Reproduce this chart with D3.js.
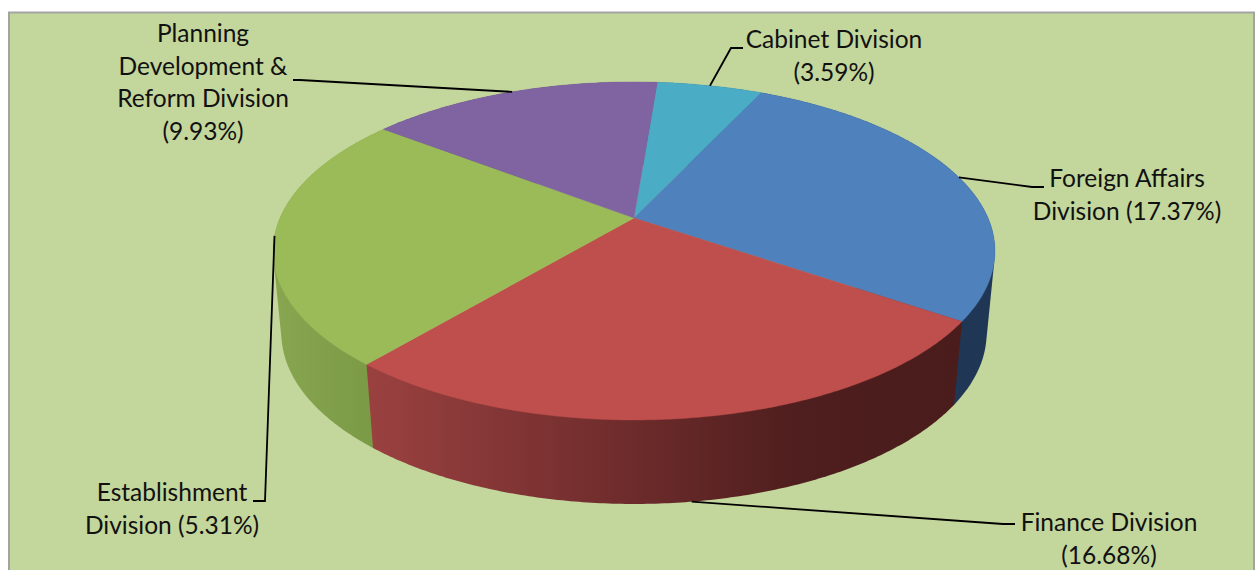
<!DOCTYPE html>
<html lang="en">
<head>
    <meta charset="UTF-8">
    <title>Division shares</title>
    <style>
        body{ margin:0; background:#fff; }
        svg{ display:block; }
        .label text{ font:24.5px Lato, sans-serif; fill:#111; text-anchor:middle; }
        .leader{ fill:none; stroke:#000; stroke-width:1.8; }
    </style>
</head>
<body>
    <svg class="chart" width="1256" height="570"></svg>
    <script src="https://cdnjs.cloudflare.com/ajax/libs/d3/7.8.5/d3.min.js"></script>
    <script>
        // data, clockwise from the top
        var categories = ["Cabinet Division", "Foreign Affairs Division", "Finance Division", "Establishment Division", "Planning Development & Reform Division"];
        var sliceValues = [3.59, 17.37, 16.68, 15.31, 9.93];
        var labelLines = [
            ["Cabinet Division", "(3.59%)"],
            ["Foreign Affairs", "Division (17.37%)"],
            ["Finance Division", "(16.68%)"],
            ["Establishment", "Division (5.31%)"],
            ["Planning", "Development &", "Reform Division", "(9.93%)"]
        ];

        var colors = ["#4bacc6", "#4f81bd", "#be4f4c", "#9bbb59", "#8064a2"];

        // label placement: centre x, first baseline, elbow points of the leader
        var placement = [
            {x:834, y:48, elbow:[[731, 48], [743, 48]]},
            {x:1127, y:187, elbow:[[1032, 187], [1044, 187]]},
            {x:1109, y:531, elbow:[[1003, 524], [1015, 524]]},
            {x:172, y:501, elbow:[[265, 501], [253, 501]]},
            {x:203, y:42, elbow:[[300, 80], [293, 80]]}
        ];

        var svg = d3.select("svg"),
            height = +svg.attr("height"),
            startAngle = 4.5 * Math.PI / 180;

        // perspective projection of the top and bottom discs
        var topDisc = {cx:634, cy:218, a:354, b:162.6, k:0.195},
            bottomDisc = {cx:634, cy:300, a:346, b:164.6, k:0.193};

        function project(disc, angle){
            var X = Math.sin(angle),
                Y = -Math.cos(angle),
                w = 1 - disc.k * Y;
            return [disc.cx + disc.a * X / w, disc.cy + disc.b * Y / w];
        }

        function rimAngles(d){
            var n = Math.ceil((d.endAngle - d.startAngle) / 0.01);
            return d3.range(n + 1).map(function(i){ return d.startAngle + (d.endAngle - d.startAngle) * i / n; });
        }

        function midAngle(d){
            return (d.startAngle + d.endAngle) / 2;
        }

        var pie = d3.pie().sort(null).startAngle(startAngle).endAngle(startAngle + 2 * Math.PI);
        var arcs = pie(sliceValues);
        var line = d3.line();

        // chart area
        svg.append("rect")
            .attr("x", 9).attr("y", 12.5)
            .attr("width", 1245).attr("height", height)
            .attr("fill", "#c3d69b")
            .attr("stroke", "#a3a3a3")
            .attr("stroke-width", 2);

        // side wall shading
        var defs = svg.append("defs");
        function wallGradient(id, x1, x2, stops){
            var g = defs.append("linearGradient")
                .attr("id", id)
                .attr("gradientUnits", "userSpaceOnUse")
                .attr("x1", x1).attr("x2", x2)
                .attr("y1", 0).attr("y2", 0);
            stops.forEach(function(s){
                g.append("stop").attr("offset", s[0]).attr("stop-color", s[1]);
            });
        }
        wallGradient("wall-red", 368, 960, [[0, "#9a4140"], [0.45, "#6d2b2b"], [0.72, "#4f1e1e"], [1, "#4a1c1c"]]);
        wallGradient("wall-green", 275, 375, [[0, "#88a650"], [1, "#7b9a46"]]);
        var wallFill = ["#2b6273", "#1f3654", "url(#wall-red)", "url(#wall-green)", "#4c3c61"];

        // walls first, back to front. hull of both rims so the sides get a straight edge,
        // the top faces cover whatever sticks out behind
        var wallOrder = arcs.slice().sort(function(p, q){
            return d3.descending(Math.cos(midAngle(p)), Math.cos(midAngle(q)));
        });
        svg.append("g").selectAll("path")
            .data(wallOrder)
            .enter().append("path")
            .attr("d", function(d){
                var angles = rimAngles(d);
                var pts = angles.map(function(a){ return project(topDisc, a); })
                    .concat(angles.map(function(a){ return project(bottomDisc, a); }));
                return line(d3.polygonHull(pts)) + "Z";
            })
            .attr("fill", function(d){ return wallFill[d.index]; });

        svg.append("g").selectAll("path")
            .data(arcs)
            .enter().append("path")
            .attr("data-category", function(d, i){ return categories[i]; })
            .attr("d", function(d){
                var pts = rimAngles(d).map(function(a){ return project(topDisc, a); });
                pts.unshift([topDisc.cx, topDisc.cy]);
                return line(pts) + "Z";
            })
            .attr("fill", function(d, i){ return colors[i]; })
            .attr("stroke", function(d, i){ return colors[i]; })
            .attr("stroke-width", 0.4);

        // leaders start at the middle of each slice on its outer edge
        svg.append("g").selectAll("path")
            .data(arcs)
            .enter().append("path")
            .attr("class", "leader")
            .attr("d", function(d, i){
                var mid = midAngle(d);
                var disc = Math.cos(mid) < -0.9 ? bottomDisc : topDisc;   // front slice points at the wall bottom
                return line([project(disc, mid)].concat(placement[i].elbow));
            });

        var label = svg.append("g").selectAll("g")
            .data(labelLines)
            .enter().append("g")
            .attr("class", "label");

        label.selectAll("text")
            .data(function(d, i){
                return d.map(function(t, j){ return {text:t, x:placement[i].x, y:placement[i].y + j * 32.7}; });
            })
            .enter().append("text")
            .attr("x", function(d){ return d.x; })
            .attr("y", function(d){ return d.y; })
            .text(function(d){ return d.text; });
    </script>
</body>
</html>
